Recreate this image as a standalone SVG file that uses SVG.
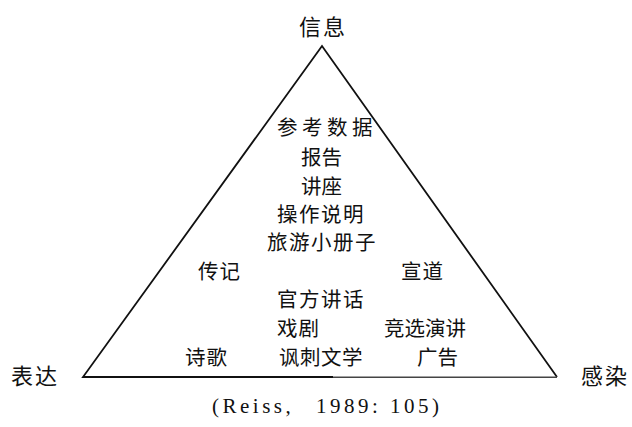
<svg xmlns="http://www.w3.org/2000/svg" width="632" height="427" viewBox="0 0 632 427">
<style>
.t{font-family:"Noto Sans CJK SC","Noto Sans",sans-serif;font-size:20.5px;fill:#111;dominant-baseline:central;letter-spacing:1.5px}
.big{font-size:22px;letter-spacing:2px}
.cite{font-family:"Liberation Serif","Noto Sans CJK SC",serif;font-size:21px;fill:#111;dominant-baseline:central;letter-spacing:3.5px}
</style>
<rect width="632" height="427" fill="#fff"/>
<g id="connectors">
<polyline points="333,377 83,377 322,46 557,377" fill="none" stroke="#111" stroke-width="1.8" stroke-linejoin="miter"/>
<line x1="333" y1="377.3" x2="557" y2="377.3" stroke="#444" stroke-width="1.4"/>
</g>
<g id="n-info"><text class="t big" x="299" y="25">信息</text></g>
<g id="n-expr"><text class="t big" x="11" y="374">表达</text></g>
<g id="n-appeal"><text class="t big" x="581" y="374">感染</text></g>
<g id="n-list">
<text class="t" x="277" y="126" style="letter-spacing:4.5px">参考数据</text>
<text class="t" x="301" y="156" style="letter-spacing:0px">报告</text>
<text class="t" x="301" y="185" style="letter-spacing:0px">讲座</text>
<text class="t" x="277" y="213">操作说明</text>
<text class="t" x="267" y="241">旅游小册子</text>
</g>
<g id="n-bio"><text class="t" x="198" y="270" style="letter-spacing:1px">传记</text></g>
<g id="n-preach"><text class="t" x="401" y="270" style="letter-spacing:1px">宣道</text></g>
<g id="n-speech"><text class="t" x="277" y="298">官方讲话</text></g>
<g id="n-drama"><text class="t" x="277" y="327" style="letter-spacing:1px">戏剧</text></g>
<g id="n-campaign"><text class="t" x="384" y="327" style="letter-spacing:0px">竞选演讲</text></g>
<g id="n-poem"><text class="t" x="185" y="356" style="letter-spacing:1px">诗歌</text></g>
<g id="n-satire"><text class="t" x="279" y="356" style="letter-spacing:0.5px">讽刺文学</text></g>
<g id="n-ad"><text class="t" x="417" y="356" style="letter-spacing:0px">广告</text></g>
<g id="cite"><text class="cite" y="406"><tspan x="212">(Reiss,</tspan><tspan x="316">1989:</tspan><tspan x="390">105)</tspan></text></g>
</svg>
